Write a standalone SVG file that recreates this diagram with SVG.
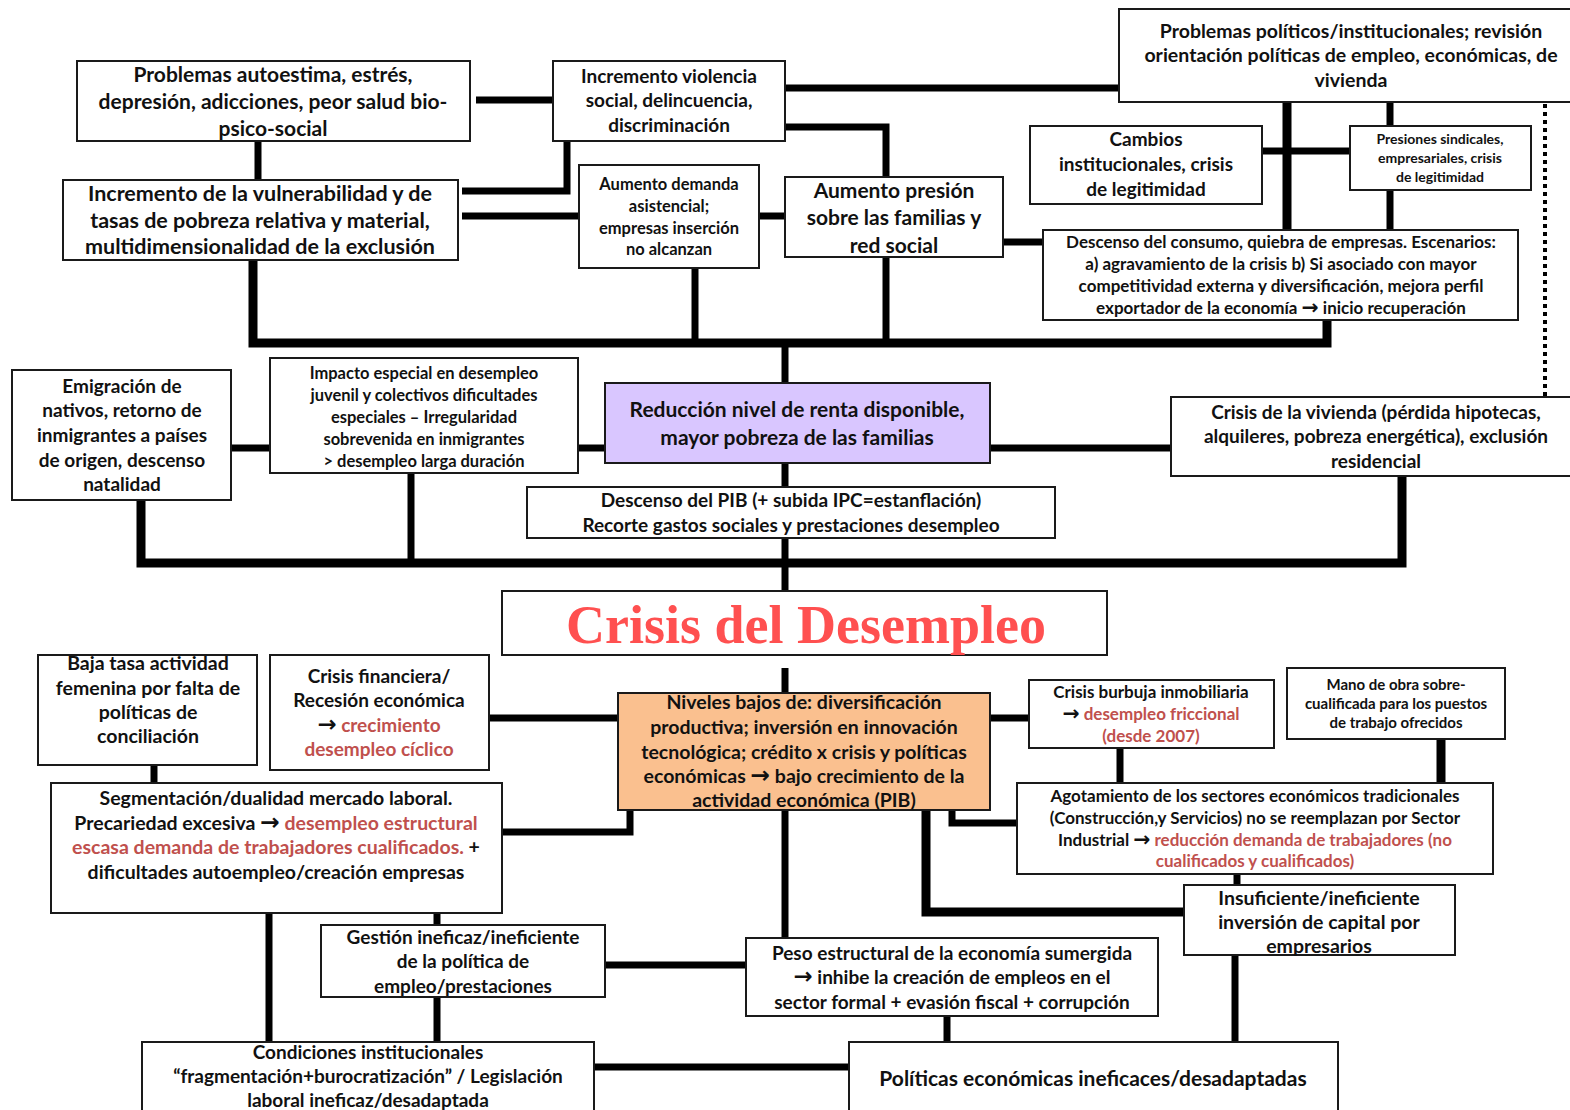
<svg xmlns="http://www.w3.org/2000/svg" width="1570" height="1110" viewBox="0 0 1570 1110">
<style>
.bx{fill:#fff;stroke:#1a1a1a;stroke-width:2}
.t{font-family:Lato,"Liberation Sans",sans-serif;font-weight:bold;fill:#111;text-anchor:middle}
.r{fill:#C0504D}
.a{font-family:"DejaVu Sans",sans-serif;font-weight:bold;fill:#111;font-size:1.2em}
.c{stroke:#000;fill:none;stroke-width:7;stroke-linejoin:miter;stroke-linecap:butt}
.w9{stroke-width:9}
.dot{stroke:#000;fill:none;stroke-width:4;stroke-dasharray:4 4}
</style>
<rect width="1570" height="1110" fill="#fff"/>
<g id="connectors">
<path class="c" d="M476,100 H553"/>
<path class="c" d="M258,141 V180"/>
<path class="c" d="M462,191 H567 V141"/>
<path class="c" d="M462,216 H579"/>
<path class="c" d="M785,88 H1119"/>
<path class="c" d="M785,127 H886 V177"/>
<path class="c" d="M759,216 H785"/>
<path class="c" d="M1003,242 H1043"/>
<path class="c" d="M1262,151 H1350"/>
<path class="c w9" d="M1287,102 V230"/>
<path class="c" d="M1390,102 V126"/>
<path class="c" d="M1390,190 V230"/>
<path class="dot" d="M1545,104 V397"/>
<path class="c w9" d="M253,260 V343 H1327 V320"/>
<path class="c" d="M695,268 V343"/>
<path class="c" d="M886,257 V343"/>
<path class="c" d="M785,343 V383"/>
<path class="c" d="M231,448 H270"/>
<path class="c" d="M578,448 H605"/>
<path class="c" d="M990,448 H1171"/>
<path class="c" d="M785,463 V487"/>
<path class="c" d="M785,538 V591"/>
<path class="c w9" d="M141,500 V563 H1402 V476"/>
<path class="c" d="M411,473 V563"/>
<path class="c" d="M785,668 V693"/>
<path class="c" d="M154,765 V783"/>
<path class="c" d="M489,718 H618"/>
<path class="c" d="M502,832 H630 V810"/>
<path class="c" d="M990,718 H1029"/>
<path class="c" d="M1120,748 V783"/>
<path class="c w9" d="M1441,739 V783"/>
<path class="c" d="M952,810 V823 H1017"/>
<path class="c w9" d="M926,810 V912 H1184"/>
<path class="c" d="M1237,874 V885"/>
<path class="c" d="M785,810 V938"/>
<path class="c" d="M437,913 V925"/>
<path class="c" d="M269,913 V1042"/>
<path class="c" d="M437,997 V1042"/>
<path class="c" d="M605,965 H746"/>
<path class="c" d="M594,1067 H849"/>
<path class="c" d="M947,1016 V1042"/>
<path class="c" d="M1235,955 V1042"/>
</g>
<g id="n-autoestima"><rect class="bx" x="77" y="61" width="393" height="80"/>
<text class="t" font-size="21"><tspan x="273" y="82">Problemas autoestima, estrés,</tspan><tspan x="273" y="109">depresión, adicciones, peor salud bio-</tspan><tspan x="273" y="136">psico-social</tspan></text></g>
<g id="n-violencia"><rect class="bx" x="553" y="61" width="232" height="80"/>
<text class="t" font-size="19"><tspan x="669" y="83">Incremento violencia</tspan><tspan x="669" y="107">social, delincuencia,</tspan><tspan x="669" y="132">discriminación</tspan></text></g>
<g id="n-vulnerabilidad"><rect class="bx" x="63" y="180" width="395" height="80"/>
<text class="t" font-size="21.5"><tspan x="260" y="201">Incremento de la vulnerabilidad y de</tspan><tspan x="260" y="228">tasas de pobreza relativa y material,</tspan><tspan x="260" y="254">multidimensionalidad de la exclusión</tspan></text></g>
<g id="n-asistencial"><rect class="bx" x="579" y="165" width="180" height="103"/>
<text class="t" font-size="16.5"><tspan x="669" y="190">Aumento demanda</tspan><tspan x="669" y="212">asistencial;</tspan><tspan x="669" y="234">empresas inserción</tspan><tspan x="669" y="255">no alcanzan</tspan></text></g>
<g id="n-presion"><rect class="bx" x="785" y="177" width="218" height="80"/>
<text class="t" font-size="21"><tspan x="894" y="198">Aumento presión</tspan><tspan x="894" y="225">sobre las familias y</tspan><tspan x="894" y="253">red social</tspan></text></g>
<g id="n-politicos"><rect class="bx" x="1119" y="9" width="470" height="93"/>
<text class="t" font-size="19.5"><tspan x="1351" y="38">Problemas políticos/institucionales; revisión</tspan><tspan x="1351" y="62">orientación políticas de empleo, económicas, de</tspan><tspan x="1351" y="87">vivienda</tspan></text></g>
<g id="n-cambios"><rect class="bx" x="1030" y="126" width="232" height="78"/>
<text class="t" font-size="19"><tspan x="1146" y="146">Cambios</tspan><tspan x="1146" y="171">institucionales, crisis</tspan><tspan x="1146" y="196">de legitimidad</tspan></text></g>
<g id="n-presiones"><rect class="bx" x="1350" y="126" width="181" height="64"/>
<text class="t" font-size="14"><tspan x="1440" y="144">Presiones sindicales,</tspan><tspan x="1440" y="163">empresariales, crisis</tspan><tspan x="1440" y="182">de legitimidad</tspan></text></g>
<g id="n-consumo"><rect class="bx" x="1043" y="230" width="475" height="90"/>
<text class="t" font-size="17"><tspan x="1281" y="248">Descenso del consumo, quiebra de empresas. Escenarios:</tspan><tspan x="1281" y="270">a) agravamiento de la crisis b) Si asociado con mayor</tspan><tspan x="1281" y="292">competitividad externa y diversificación, mejora perfil</tspan><tspan x="1281" y="314">exportador de la economía <tspan class="a">→</tspan> inicio recuperación</tspan></text></g>
<g id="n-emigracion"><rect class="bx" x="12" y="370" width="219" height="130"/>
<text class="t" font-size="19"><tspan x="122" y="393">Emigración de</tspan><tspan x="122" y="417">nativos, retorno de</tspan><tspan x="122" y="442">inmigrantes a países</tspan><tspan x="122" y="467">de origen, descenso</tspan><tspan x="122" y="491">natalidad</tspan></text></g>
<g id="n-impacto"><rect class="bx" x="270" y="358" width="308" height="115"/>
<text class="t" font-size="16.5"><tspan x="424" y="379">Impacto especial en desempleo</tspan><tspan x="424" y="401">juvenil y colectivos dificultades</tspan><tspan x="424" y="423">especiales – Irregularidad</tspan><tspan x="424" y="445">sobrevenida en inmigrantes</tspan><tspan x="424" y="467">&gt; desempleo larga duración</tspan></text></g>
<g id="n-renta"><rect class="bx" x="605" y="383" width="385" height="80" style="fill:#D9C6FF"/>
<text class="t" font-size="21"><tspan x="797" y="417">Reducción nivel de renta disponible,</tspan><tspan x="797" y="445">mayor pobreza de las familias</tspan></text></g>
<g id="n-vivienda"><rect class="bx" x="1171" y="397" width="420" height="79"/>
<text class="t" font-size="19"><tspan x="1376" y="419">Crisis de la vivienda (pérdida hipotecas,</tspan><tspan x="1376" y="443">alquileres, pobreza energética), exclusión</tspan><tspan x="1376" y="468">residencial</tspan></text></g>
<g id="n-pib"><rect class="bx" x="527" y="487" width="528" height="51"/>
<text class="t" font-size="19"><tspan x="791" y="507">Descenso del PIB (+ subida IPC=estanflación)</tspan><tspan x="791" y="532">Recorte gastos sociales y prestaciones desempleo</tspan></text></g>
<g id="n-crisis"><rect class="bx" x="502" y="591" width="605" height="64"/>
<text x="806" y="643" font-family="'Liberation Serif',serif" font-weight="bold" font-size="54" fill="#FF5050" text-anchor="middle">Crisis del Desempleo</text></g>
<g id="n-baja"><rect class="bx" x="38" y="655" width="219" height="110"/>
<text class="t" font-size="19.5"><tspan x="148" y="670">Baja tasa actividad</tspan><tspan x="148" y="695">femenina por falta de</tspan><tspan x="148" y="719">políticas de</tspan><tspan x="148" y="743">conciliación</tspan></text></g>
<g id="n-financiera"><rect class="bx" x="270" y="655" width="219" height="115"/>
<text class="t" font-size="19"><tspan x="379" y="683">Crisis financiera/</tspan><tspan x="379" y="707">Recesión económica</tspan><tspan x="379" y="732"><tspan class="a">→</tspan> <tspan class="r">crecimiento</tspan></tspan><tspan x="379" y="756" class="r">desempleo cíclico</tspan></text></g>
<g id="n-niveles"><rect class="bx" x="618" y="693" width="372" height="117" style="fill:#FAC08F"/>
<text class="t" font-size="19.5"><tspan x="804" y="709">Niveles bajos de: diversificación</tspan><tspan x="804" y="734">productiva; inversión en innovación</tspan><tspan x="804" y="759">tecnológica; crédito x crisis y políticas</tspan><tspan x="804" y="783">económicas <tspan class="a">→</tspan> bajo crecimiento de la</tspan><tspan x="804" y="807">actividad económica (PIB)</tspan></text></g>
<g id="n-segmentacion"><rect class="bx" x="51" y="783" width="451" height="130"/>
<text class="t" font-size="19.5"><tspan x="276" y="805">Segmentación/dualidad mercado laboral.</tspan><tspan x="276" y="830">Precariedad excesiva <tspan class="a">→</tspan> <tspan class="r">desempleo estructural</tspan></tspan><tspan x="276" y="854"><tspan class="r">escasa demanda de trabajadores cualificados.</tspan> +</tspan><tspan x="276" y="879">dificultades autoempleo/creación empresas</tspan></text></g>
<g id="n-burbuja"><rect class="bx" x="1029" y="680" width="245" height="68"/>
<text class="t" font-size="17"><tspan x="1151" y="698">Crisis burbuja inmobiliaria</tspan><tspan x="1151" y="720"><tspan class="a">→</tspan> <tspan class="r">desempleo friccional</tspan></tspan><tspan x="1151" y="742" class="r">(desde 2007)</tspan></text></g>
<g id="n-mano"><rect class="bx" x="1287" y="668" width="218" height="71"/>
<text class="t" font-size="15"><tspan x="1396" y="690">Mano de obra sobre-</tspan><tspan x="1396" y="709">cualificada para los puestos</tspan><tspan x="1396" y="728">de trabajo ofrecidos</tspan></text></g>
<g id="n-agotamiento"><rect class="bx" x="1017" y="783" width="476" height="91"/>
<text class="t" font-size="17"><tspan x="1255" y="802">Agotamiento de los sectores económicos tradicionales</tspan><tspan x="1255" y="824">(Construcción,y  Servicios) no se reemplazan por Sector</tspan><tspan x="1255" y="846">Industrial <tspan class="a">→</tspan> <tspan class="r">reducción demanda de trabajadores (no</tspan></tspan><tspan x="1255" y="867" class="r">cualificados y cualificados)</tspan></text></g>
<g id="n-insuficiente"><rect class="bx" x="1184" y="885" width="271" height="70"/>
<text class="t" font-size="19.5"><tspan x="1319" y="905">Insuficiente/ineficiente</tspan><tspan x="1319" y="929">inversión de capital por</tspan><tspan x="1319" y="953">empresarios</tspan></text></g>
<g id="n-gestion"><rect class="bx" x="321" y="925" width="284" height="72"/>
<text class="t" font-size="19"><tspan x="463" y="944">Gestión ineficaz/ineficiente</tspan><tspan x="463" y="968">de la política de</tspan><tspan x="463" y="993">empleo/prestaciones</tspan></text></g>
<g id="n-peso"><rect class="bx" x="746" y="938" width="412" height="78"/>
<text class="t" font-size="19"><tspan x="952" y="960">Peso estructural de la economía sumergida</tspan><tspan x="952" y="984"><tspan class="a">→</tspan> inhibe la creación de empleos en el</tspan><tspan x="952" y="1009">sector formal + evasión fiscal + corrupción</tspan></text></g>
<g id="n-condiciones"><rect class="bx" x="142" y="1042" width="452" height="90"/>
<text class="t" font-size="19"><tspan x="368" y="1059">Condiciones institucionales</tspan><tspan x="368" y="1083">“fragmentación+burocratización” / Legislación</tspan><tspan x="368" y="1107">laboral ineficaz/desadaptada</tspan></text></g>
<g id="n-politicas"><rect class="bx" x="849" y="1042" width="489" height="90"/>
<text class="t" font-size="21"><tspan x="1093" y="1086">Políticas económicas ineficaces/desadaptadas</tspan></text></g>
</svg>
